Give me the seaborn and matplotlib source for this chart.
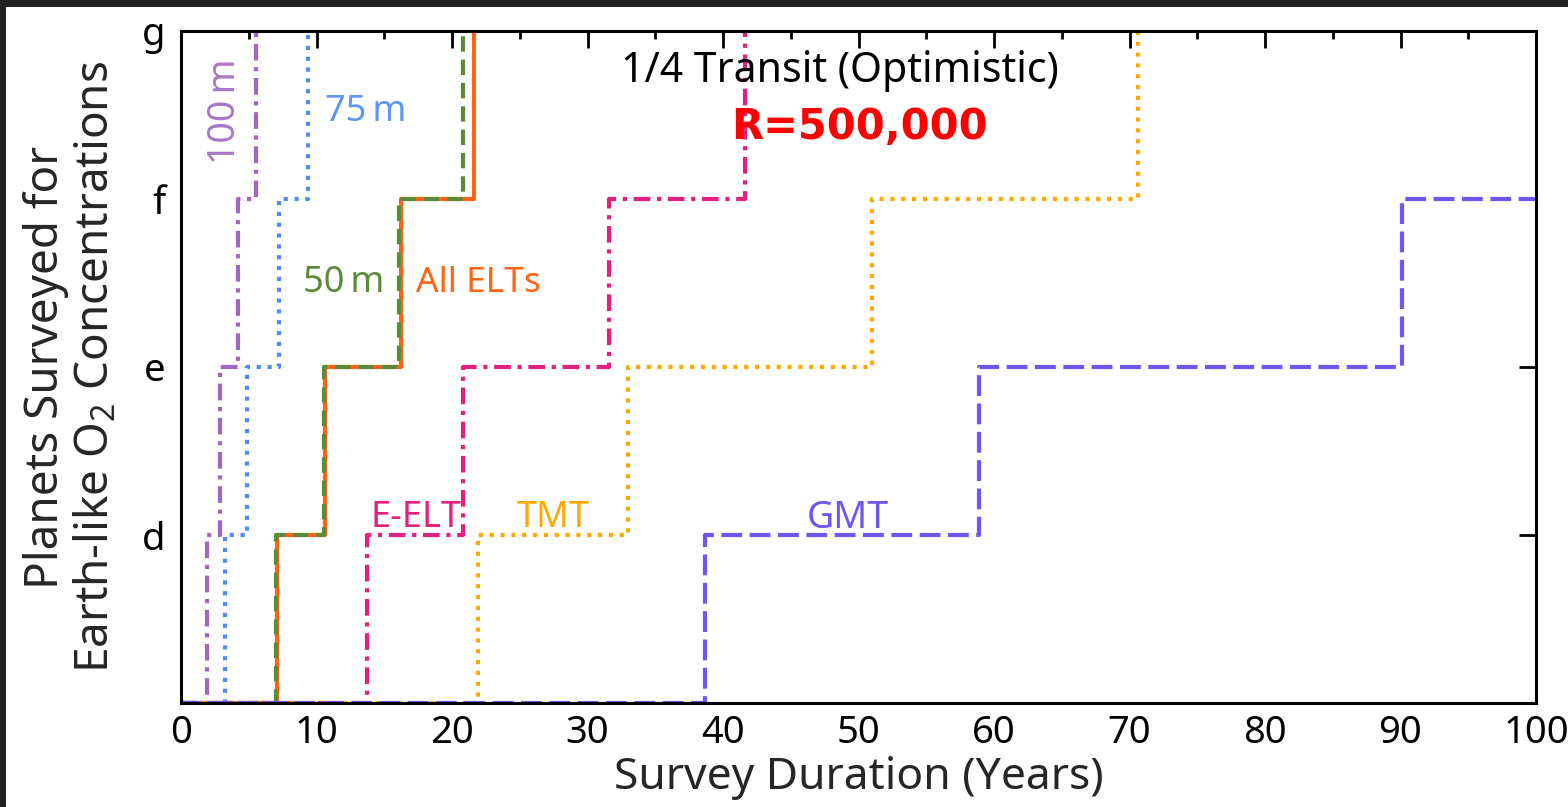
import numpy as np
import pandas as pd
import matplotlib
matplotlib.use("Agg")
import matplotlib.pyplot as plt
import seaborn as sns
from matplotlib.patches import Rectangle

# ---- data (survey years at which each planet level is reached) ----
level_labels = ["d", "e", "f", "g"]
level_values = [1, 2, 3, 4]

series_names = ["All ELTs", "50 m", "100 m", "75 m", "E-ELT", "TMT", "GMT"]
steps_all_elts = [7.1, 10.65, 16.25, 21.6]
steps_50m = [7.0, 10.55, 16.1, 20.8]
steps_100m = [1.9, 2.9, 4.2, 5.5]
steps_75m = [3.25, 4.85, 7.2, 9.4]
steps_eelt = [13.7, 20.8, 31.6, 41.6]
steps_tmt = [21.9, 33.0, 51.0, 70.6]
steps_gmt = [38.7, 58.9, 90.1]

x_max = 100

colors = {
    "All ELTs": "#FF6314",
    "50 m": "#5A8A3A",
    "100 m": "#A066C2",
    "75 m": "#4D8BF5",
    "E-ELT": "#E2217F",
    "TMT": "#FFA800",
    "GMT": "#6F55F2",
}
text_colors = {
    "All ELTs": "#FF6314",
    "50 m": "#5A8A3A",
    "100 m": "#A877C6",
    "75 m": "#5F95F7",
    "E-ELT": "#E2217F",
    "TMT": "#FFA800",
    "GMT": "#6F55F2",
}
lw = 3.0
styles = {
    "All ELTs": "-",
    "50 m": (0, (3.7, 1.9)),
    "100 m": (0, (4, 1.6, 1, 1.6)),
    "75 m": (0, (1, 1.6)),
    "E-ELT": (0, (4, 1.6, 1, 1.6)),
    "TMT": (0, (1, 1.6)),
    "GMT": (0, (5, 1.8)),
}
steps = {
    "All ELTs": steps_all_elts,
    "50 m": steps_50m,
    "100 m": steps_100m,
    "75 m": steps_75m,
    "E-ELT": steps_eelt,
    "TMT": steps_tmt,
    "GMT": steps_gmt,
}

sns.set_theme(style="white")
plt.rcParams["font.family"] = ["Noto Sans", "DejaVu Sans"]
plt.rcParams["mathtext.fontset"] = "custom"
plt.rcParams["mathtext.rm"] = "Noto Sans"
plt.rcParams["mathtext.it"] = "Noto Sans:italic"
plt.rcParams["mathtext.bf"] = "Noto Sans:bold"

fig = plt.figure(figsize=(15.68, 8.07), dpi=100)
fig.patch.set_facecolor("white")
ax = fig.add_axes([181 / 1568, 1 - 703 / 807, (1536 - 181) / 1568, (703 - 31) / 807])

for name in series_names:
    xs = [0] + list(steps[name])
    ys = [0] + level_values[: len(steps[name])]
    if len(steps[name]) < len(level_values):
        xs.append(x_max)
        ys.append(ys[-1])
    df = pd.DataFrame({"x": xs, "y": ys})
    sns.lineplot(data=df, x="x", y="y", ax=ax, color=colors[name], lw=lw,
                 drawstyle="steps-post", sort=False, estimator=None,
                 legend=False)
    line = ax.lines[-1]
    line.set_linestyle(styles[name])
    line.set_solid_capstyle("butt")
    line.set_dash_capstyle("butt")

ax.set_xlim(0, x_max)
ax.set_ylim(0, 4)
ax.set_xticks(np.arange(0, 101, 10))
ax.set_xticks(np.arange(0, 101, 5), minor=True)
ax.set_yticks(level_values)
ax.set_yticklabels(level_labels)

ax.tick_params(axis="both", which="both", direction="in", top=True, right=True,
               colors="black", width=2)
ax.tick_params(axis="both", which="major", length=12, labelsize=27.5, pad=8)
ax.tick_params(axis="y", which="major", pad=11)
ax.tick_params(axis="both", which="minor", length=6)
for sp in ax.spines.values():
    sp.set_linewidth(2.2)
    sp.set_color("black")
    sp.set_zorder(5)

ax.set_xlabel("Survey Duration (Years)", fontsize=32, labelpad=3)
ax.set_ylabel("Planets Surveyed for\nEarth-like O$_2$ Concentrations", fontsize=33,
              labelpad=16, linespacing=1.12)

fs = 26
ax.text(3.25, 3.52, "100\u2009m", rotation=90, ha="center", va="center",
        color=text_colors["100 m"], fontsize=27)
ax.text(10.6, 3.52, "75\u2009m", ha="left", va="center",
        color=text_colors["75 m"], fontsize=fs)
ax.text(9.0, 2.5, "50\u2009m", ha="left", va="center",
        color=text_colors["50 m"], fontsize=fs)
ax.text(17.35, 2.5, "All ELTs", ha="left", va="center",
        color=text_colors["All ELTs"], fontsize=25.5)
ax.text(13.95, 1.1, "E-ELT", ha="left", va="center",
        color=text_colors["E-ELT"], fontsize=fs)
ax.text(24.8, 1.1, "TMT", ha="left", va="center",
        color=text_colors["TMT"], fontsize=fs)
ax.text(49.2, 1.1, "GMT", ha="center", va="center",
        color=text_colors["GMT"], fontsize=27)
ax.text(48.6, 3.76, "1/4 Transit (Optimistic)", ha="center", va="center",
        color="black", fontsize=29.5)
ax.text(50.1, 3.43, "R=500,000", ha="center", va="center", color="red",
        fontsize=30, fontweight="bold", family="DejaVu Sans")

# dark screenshot frame (top and left edges)
fig.patches.append(Rectangle((0, 1 - 7 / 807), 1, 7 / 807, transform=fig.transFigure,
                             facecolor="#202020", edgecolor="none", zorder=10))
fig.patches.append(Rectangle((0, 0), 6 / 1568, 1, transform=fig.transFigure,
                             facecolor="#202020", edgecolor="none", zorder=10))

fig.savefig("out.png", dpi=100)
